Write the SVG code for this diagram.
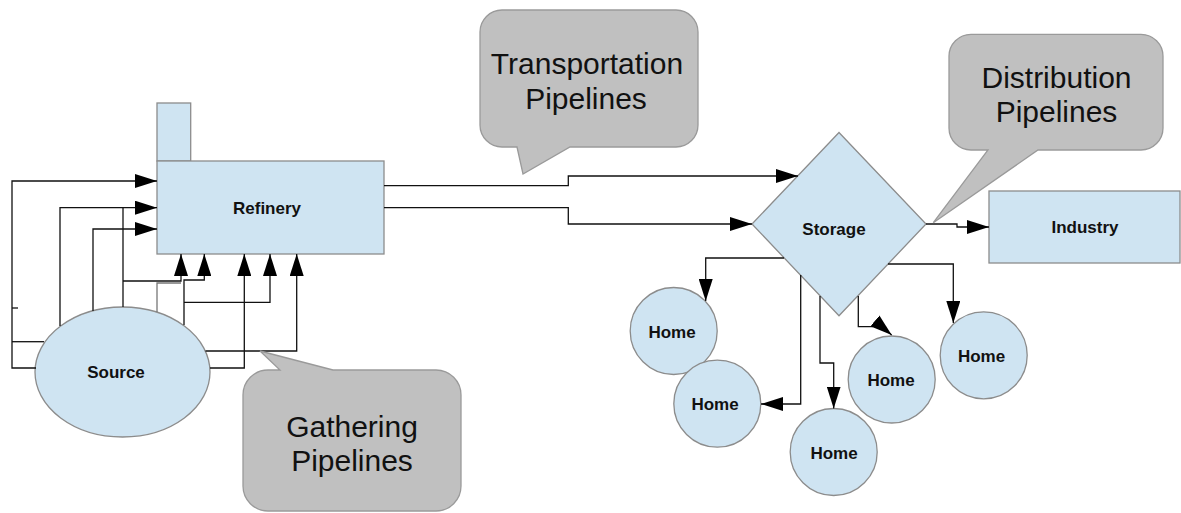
<svg xmlns="http://www.w3.org/2000/svg" width="1181" height="513" viewBox="0 0 1181 513">
<defs>
<style>
.node{fill:#cfe4f2;stroke:#8c8c8c;stroke-width:1.3}
.lbl{font-family:"Liberation Sans",Arial,sans-serif;font-weight:bold;font-size:17px;fill:#111;text-anchor:middle}
.call{fill:#c0c0c0;stroke:#9a9a9a;stroke-width:1.3}
.ctext{font-family:"Liberation Sans",Arial,sans-serif;font-size:30px;fill:#111;text-anchor:middle}
.conn{fill:none;stroke:#111;stroke-width:1.3}
</style>
<marker id="arr" markerUnits="userSpaceOnUse" markerWidth="22" markerHeight="14" refX="22" refY="7" orient="auto">
<path d="M0,0 L22,7 L0,14 Z" fill="#000"/>
</marker>
</defs>
<rect width="1181" height="513" fill="#fff"/>

<g id="refinery">
<rect class="node" x="157" y="103" width="33.7" height="58"/>
<rect class="node" x="157" y="161" width="227" height="93"/>
<text class="lbl" x="267" y="214">Refinery</text>
</g>
<g id="source">
<ellipse class="node" cx="122.5" cy="372" rx="87.5" ry="65"/>
<text class="lbl" x="116" y="378">Source</text>
</g>
<g id="storage">
<polygon class="node" points="839,132.5 926,224 839,315.7 752,224"/>
<text class="lbl" x="834" y="235">Storage</text>
</g>
<g id="industry">
<rect class="node" x="989" y="191" width="191" height="72"/>
<text class="lbl" x="1085" y="233">Industry</text>
</g>
<g id="home1">
<circle class="node" cx="673.7" cy="331" r="43.5"/>
<text class="lbl" x="672" y="338">Home</text>
</g>
<g id="home2">
<circle class="node" cx="717.3" cy="403.7" r="43.5"/>
<text class="lbl" x="715" y="410">Home</text>
</g>
<g id="home3">
<circle class="node" cx="833.7" cy="452" r="43.5"/>
<text class="lbl" x="834" y="459">Home</text>
</g>
<g id="home4">
<circle class="node" cx="891.7" cy="379.5" r="43.5"/>
<text class="lbl" x="891" y="386">Home</text>
</g>
<g id="home5">
<circle class="node" cx="983.7" cy="355.3" r="43.5"/>
<text class="lbl" x="981.5" y="362">Home</text>
</g>

<g id="connectors">
<path class="conn" d="M36,368 H12 V181 H157" marker-end="url(#arr)"/>
<path class="conn" d="M44,341.7 H12"/>
<path class="conn" d="M12,308 H18"/>
<path class="conn" d="M60,326 V207.7 H157" marker-end="url(#arr)"/>
<path class="conn" d="M123,307 V207.7"/>
<path class="conn" d="M93,311 V229 H157" marker-end="url(#arr)"/>
<path class="conn" d="M123,281 H181 V254" marker-end="url(#arr)"/>
<path class="conn" d="M157,312 V283 H181" style="stroke:#777"/>
<path class="conn" d="M184,325 V280 H204.3 V254" marker-end="url(#arr)"/>
<path class="conn" d="M184,302.3 H270 V254" marker-end="url(#arr)"/>
<path class="conn" d="M210,368 H244.3 V254" marker-end="url(#arr)"/>
<path class="conn" d="M205.5,351 H296.7 V254" marker-end="url(#arr)"/>
<path class="conn" d="M384,185.7 H568.3 V176 H798" marker-end="url(#arr)"/>
<path class="conn" d="M384,207.7 H568.3 V224 H752" marker-end="url(#arr)"/>
<path class="conn" d="M926,224 H957 V227 H989" marker-end="url(#arr)"/>
<path class="conn" d="M784,258 H705.7 V301" marker-end="url(#arr)"/>
<path class="conn" d="M800.7,275 V404 H761" marker-end="url(#arr)"/>
<path class="conn" d="M820,296 V363 H833.7 V408.5" marker-end="url(#arr)"/>
<path class="conn" d="M858.3,296 V326.7 H873"/>
<path class="conn" d="M876,321.7 L891.7,335" marker-end="url(#arr)"/>
<path class="conn" d="M888,264 H953.3 V323" marker-end="url(#arr)"/>
</g>

<g id="callout-transportation">
<path class="call" d="M502,10 H676 A22,22 0 0 1 698,32 V125 A22,22 0 0 1 676,147 H570 L523,174 L517,147 H502 A22,22 0 0 1 480,125 V32 A22,22 0 0 1 502,10 Z"/>
<text class="ctext" x="587" y="74">Transportation</text>
<text class="ctext" x="586" y="109">Pipelines</text>
</g>
<g id="callout-distribution">
<path class="call" d="M971,34.3 H1141 A22,22 0 0 1 1163,56.3 V128 A22,22 0 0 1 1141,150 H1038 L933.3,222.7 L988,150 H971 A22,22 0 0 1 949,128 V56.3 A22,22 0 0 1 971,34.3 Z"/>
<text class="ctext" x="1056.5" y="88">Distribution</text>
<text class="ctext" x="1056.5" y="122">Pipelines</text>
</g>
<g id="callout-gathering">
<path class="call" d="M268,370 H280 L260,351 L333,370 H436 A25,25 0 0 1 461,395 V486 A25,25 0 0 1 436,511 H268 A25,25 0 0 1 243,486 V395 A25,25 0 0 1 268,370 Z"/>
<text class="ctext" x="352" y="437">Gathering</text>
<text class="ctext" x="352" y="471">Pipelines</text>
</g>
</svg>
